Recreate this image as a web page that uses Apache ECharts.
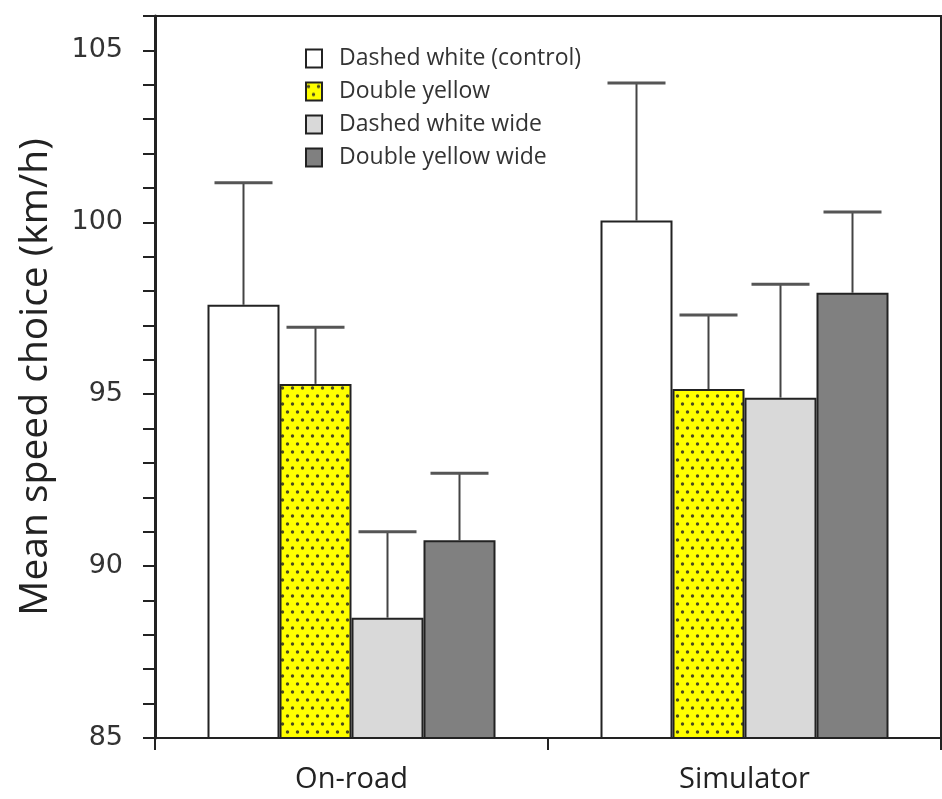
<!DOCTYPE html>
<html>
<head>
<meta charset="utf-8">
<script src="https://cdn.jsdelivr.net/npm/echarts@6/dist/echarts.min.js"></script>
<style>
html,body{margin:0;padding:0;background:#fff;}
#chart{width:942px;height:799px;}
</style>
</head>
<body>
<div id="chart"></div>
<script>
const categories = ['On-road', 'Simulator'];
const seriesNames = ['Dashed white (control)', 'Double yellow', 'Dashed white wide', 'Double yellow wide'];
const dashedWhite = [97.6, 100.05];
const doubleYellow = [95.3, 95.15];
const dashedWhiteWide = [88.5, 94.9];
const doubleYellowWide = [90.75, 97.95];
const dashedWhiteErr = [3.55, 4.0];
const doubleYellowErr = [1.65, 2.15];
const dashedWhiteWideErr = [2.5, 3.3];
const doubleYellowWideErr = [1.95, 2.35];
const yTickLabels = [85, 90, 95, 100, 105];

const means = [dashedWhite, doubleYellow, dashedWhiteWide, doubleYellowWide];
const errs = [dashedWhiteErr, doubleYellowErr, dashedWhiteWideErr, doubleYellowWideErr];

// yellow dotted pattern
const pc = document.createElement('canvas');
pc.width = 10; pc.height = 16;
const ctx = pc.getContext('2d');
ctx.fillStyle = '#ffff00';
ctx.fillRect(0, 0, 10, 16);
ctx.fillStyle = '#4a4a20';
ctx.beginPath(); ctx.arc(2.5, 4, 1.7, 0, Math.PI * 2); ctx.fill();
ctx.beginPath(); ctx.arc(7.5, 12, 1.7, 0, Math.PI * 2); ctx.fill();
const yellowPattern = { image: pc, repeat: 'repeat' };

const fills = ['#ffffff', yellowPattern, '#d9d9d9', '#808080'];
const BAR_W = 72;

const chart = echarts.init(document.getElementById('chart'), null, { renderer: 'canvas' });

const barSeries = seriesNames.map((name, i) => ({
  name: name,
  type: 'bar',
  barWidth: BAR_W,
  barGap: '0%',
  data: means[i],
  itemStyle: { color: fills[i], borderColor: '#222', borderWidth: 2 },
  z: 2
}));

const errSeries = seriesNames.map((name, i) => ({
  type: 'custom',
  name: name + ' err',
  data: categories.map((c, j) => [j, means[i][j], means[i][j] + errs[i][j]]),
  z: 3,
  renderItem: function (params, api) {
    const j = api.value(0);
    const base = api.coord([j, api.value(1)]);
    const top = api.coord([j, api.value(2)]);
    const x = base[0] + (i - 1.5) * BAR_W;
    const capHalf = 29;
    return {
      type: 'group',
      children: [
        { type: 'line', shape: { x1: x, y1: base[1], x2: x, y2: top[1] }, style: { stroke: '#444', lineWidth: 2 } },
        { type: 'line', shape: { x1: x - capHalf, y1: top[1], x2: x + capHalf, y2: top[1] }, style: { stroke: '#555', lineWidth: 3 } }
      ]
    };
  }
}));

chart.setOption({
  animation: false,
  backgroundColor: '#fff',
  grid: { left: 155, right: 1, top: 16, bottom: 61, show: true, borderColor: '#222', borderWidth: 2, backgroundColor: 'transparent' },
  legend: {
    data: seriesNames,
    orient: 'vertical',
    left: 300,
    top: 42,
    itemWidth: 16,
    itemHeight: 18,
    itemGap: 10,
    icon: 'rect',
    textStyle: { fontFamily: 'Open Sans', fontSize: 23, lineHeight: 18, color: '#333', padding: [0, 0, 0, 12] }
  },
  xAxis: {
    type: 'category',
    data: categories,
    axisLine: { lineStyle: { color: '#222', width: 2 } },
    axisTick: { show: true, length: 12, lineStyle: { color: '#222', width: 2 } },
    axisLabel: { fontFamily: 'Open Sans', fontSize: 29, color: '#222', margin: 27 }
  },
  yAxis: {
    type: 'value',
    min: 85,
    max: 106,
    interval: 1,
    name: 'Mean speed choice (km/h)',
    nameLocation: 'middle',
    nameGap: 100,
    nameTextStyle: { fontFamily: 'Open Sans', fontSize: 39, color: '#222' },
    splitLine: { show: false },
    axisLine: { show: true, lineStyle: { color: '#222', width: 3 } },
    axisTick: { show: true, length: 12, lineStyle: { color: '#222', width: 2 } },
    axisLabel: {
      fontFamily: 'DejaVu Sans', fontSize: 27, color: '#333', margin: 32,
      formatter: v => (yTickLabels.indexOf(v) >= 0 ? String(v) : '')
    }
  },
  series: barSeries.concat(errSeries)
});
</script>
</body>
</html>
